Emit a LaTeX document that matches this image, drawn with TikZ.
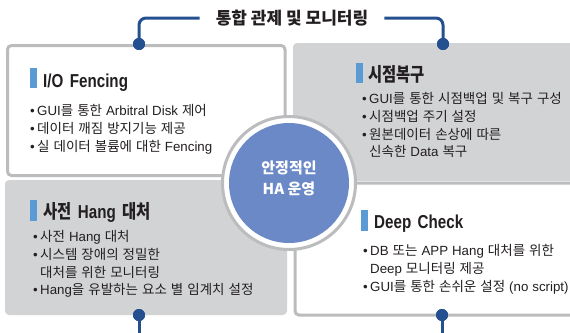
\documentclass[tikz,border=0pt]{standalone}
\usepackage{graphicx}
\usepackage{fontspec}
\setmainfont{Noto Sans CJK KR}
\newfontfamily\latf{Liberation Sans}[Scale=0.985]
\newcommand\lat[1]{{\latf #1}}
\definecolor{fillgray}{HTML}{D2D3D5}
\definecolor{bordergray}{HTML}{BBBCBE}
\definecolor{navy}{HTML}{24508F}
\definecolor{barblue}{HTML}{5B9BD5}
\definecolor{circblue}{HTML}{6B89C6}
\definecolor{textdark}{HTML}{231F20}
\newcommand\itembul{\makebox[7pt][l]{\lat{•}}}
\newcommand\itemgap{\hspace*{7pt}}
\newcommand\hd[1]{\scalebox{0.81}[1]{#1}}
\newcommand\headfont{\fontsize{19}{22}\selectfont\bfseries\spaceskip 8pt\relax}
\newcommand\bodyfont{\fontsize{13.5}{17.8}\selectfont\spaceskip 4pt\relax}
\begin{document}
\begin{tikzpicture}[x=1pt,y=-1pt,
  boxw/.style={draw=bordergray, line width=3pt, fill=white, rounded corners=4pt},
  boxg/.style={fill=fillgray, rounded corners=4pt},
  accent/.style={fill=barblue},
  heading/.style={anchor=base west, inner sep=0pt, font=\headfont, text=textdark},
  body/.style={anchor=base west, inner sep=0pt, align=left, font=\bodyfont, text=textdark},
  dot/.style={circle, fill=navy, minimum size=12pt, inner sep=0pt},
  conn/.style={draw=navy, line width=3pt, rounded corners=7pt}]
\clip (0,0) rectangle (570,332);
\fill[white] (0,0) rectangle (570,332);
% boxes
\draw[boxw] (7.5,45.5) rectangle (285,175.5);
\fill[boxg] (293,43) rectangle (590,181);
\fill[boxg] (5,180) rectangle (287,315);
\draw[boxw] (295,183) rectangle (590,315);
% centre
\draw[draw=bordergray, line width=3pt, fill=white] (289,183) circle[radius=66.5];
\node[circle, fill=circblue, minimum size=120pt, inner sep=0pt] (hub) at (289,183) {};
\node[align=center, text=white, font=\fontsize{15}{21}\selectfont\bfseries] (hubtext) at (289,178.5) {안정적인\\HA 운영};
% title and connectors
\node[font=\fontsize{17}{20}\selectfont\bfseries, text=textdark, inner xsep=16pt, inner ysep=0pt] (title) at (292,18) {통합 관제 및 모니터링};
\node[dot] (dtl) at (139,44) {};
\node[dot] (dtr) at (443,44) {};
\node[dot] (dbl) at (139,315) {};
\node[dot] (dbr) at (442,315) {};
\coordinate (ebl) at (139,336);
\coordinate (ebr) at (442,336);
\draw[conn] (title.west) -| (dtl.center);
\draw[conn] (title.east) -| (dtr.center);
\draw[conn] (dbl.center) -- (ebl);
\draw[conn] (dbr.center) -- (ebr);
\node[dot] at (dtl) {};
\node[dot] at (dtr) {};
\node[dot] at (dbl) {};
\node[dot] at (dbr) {};
% top-left
\fill[accent] (30,68) rectangle (37,88);
\node[heading] (h1) at (43,87) {\hd{\lat{I/O Fencing}}};
\node[body] (b1) at (30,151.1) {\itembul\lat{GUI}를 통한 \lat{Arbitral Disk} 제어\\\itembul 데이터 깨짐 방지기능 제공\\\itembul 실 데이터 볼륨에 대한 \lat{Fencing}};
% top-right
\fill[accent] (356,63) rectangle (363,83);
\node[heading] (h2) at (368,81) {\hd{시점복구}};
\node[body] (b2) at (362,156.9) {\itembul\lat{GUI}를 통한 시점백업 및 복구 구성\\\itembul 시점백업 주기 설정\\\itembul 원본데이터 손상에 따른\\\itemgap 신속한 \lat{Data} 복구};
% bottom-left
\fill[accent] (30,200) rectangle (37,221);
\node[heading] (h3) at (43,218) {\hd{사전 \lat{Hang} 대처}};
\node[body] (b3) at (33,294.9) {\itembul 사전 \lat{Hang} 대처\\\itembul 시스템 장애의 정밀한\\\itemgap 대처를 위한 모니터링\\\itembul\lat{Hang}을 유발하는 요소 별 임계치 설정};
% bottom-right
\fill[accent] (361,210) rectangle (368,231);
\node[heading] (h4) at (374,228) {\hd{\lat{Deep Check}}};
\node[body] (b4) at (363,291.1) {\itembul\lat{DB} 또는 \lat{APP Hang} 대처를 위한\\\itemgap \lat{Deep} 모니터링 제공\\\itembul\lat{GUI}를 통한 손쉬운 설정 \lat{(no script)}};
\end{tikzpicture}
\end{document}
